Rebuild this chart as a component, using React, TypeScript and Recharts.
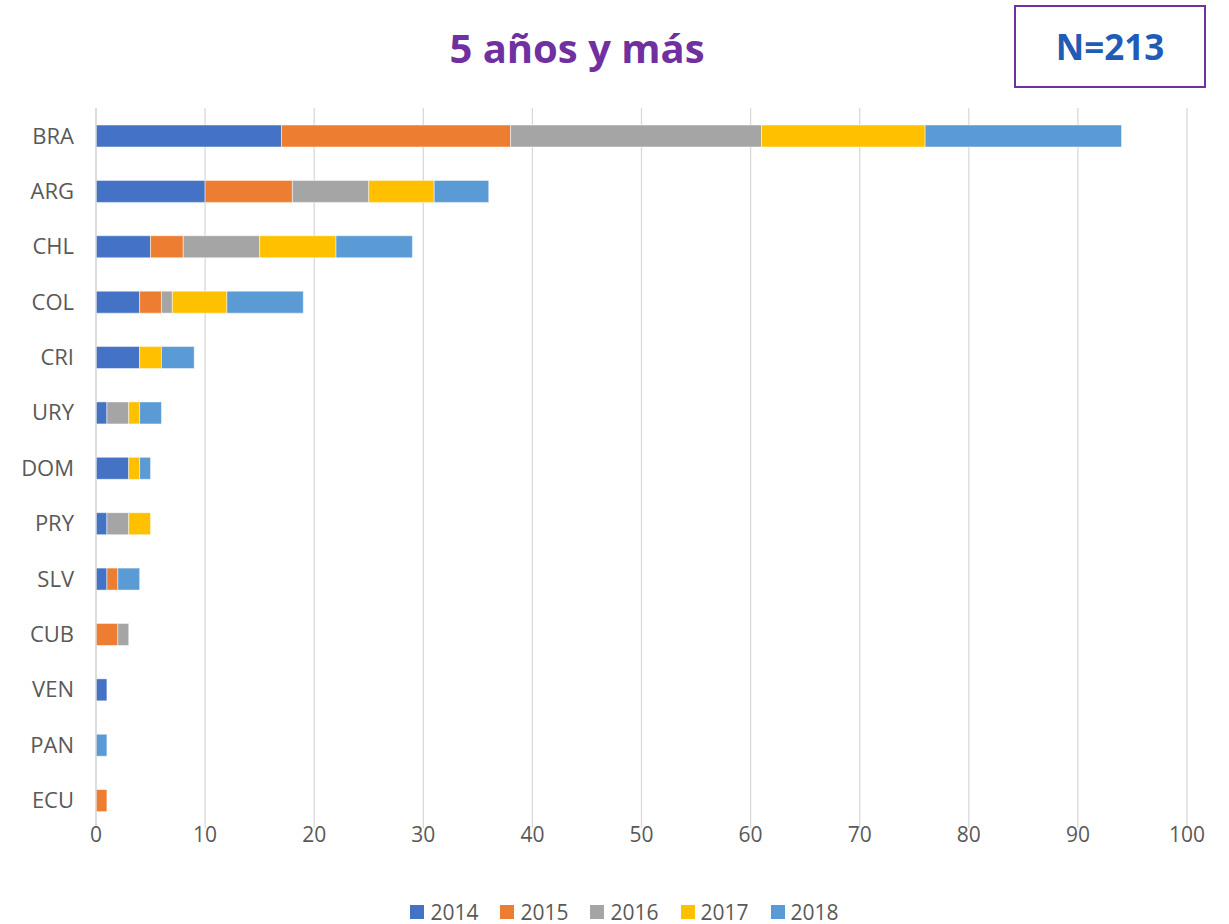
import { BarChart, Bar, XAxis, YAxis, CartesianGrid } from "recharts";

const countries = ["BRA", "ARG", "CHL", "COL", "CRI", "URY", "DOM", "PRY", "SLV", "CUB", "VEN", "PAN", "ECU"];
const y2014 = [17, 10, 5, 4, 4, 1, 3, 1, 1, 0, 1, 0, 0];
const y2015 = [21, 8, 3, 2, 0, 0, 0, 0, 1, 2, 0, 0, 1];
const y2016 = [23, 7, 7, 1, 0, 2, 0, 2, 0, 1, 0, 0, 0];
const y2017 = [15, 6, 7, 5, 2, 1, 1, 2, 0, 0, 0, 0, 0];
const y2018 = [18, 5, 7, 7, 3, 2, 1, 0, 2, 0, 0, 1, 0];
const xTicks = [0, 10, 20, 30, 40, 50, 60, 70, 80, 90, 100];

const series = [
  { key: "2014", values: y2014, color: "#4472C4" },
  { key: "2015", values: y2015, color: "#ED7D31" },
  { key: "2016", values: y2016, color: "#A5A5A5" },
  { key: "2017", values: y2017, color: "#FFC000" },
  { key: "2018", values: y2018, color: "#5B9BD5" },
];

const rows = countries.map((c, i) => {
  const row: Record<string, string | number> = { country: c };
  series.forEach((s) => (row[s.key] = s.values[i]));
  return row;
});

const FONT = "'Open Sans', sans-serif";
const total = series.reduce((acc, s) => acc + s.values.reduce((a, b) => a + b, 0), 0);

export default function App() {
  return (
    <div style={{ position: "absolute", left: 0, top: 0, width: 1229, height: 924, background: "#fff", fontFamily: FONT }}>
      <div
        style={{
          position: "absolute", left: 377, width: 400, top: 20, textAlign: "center",
          fontSize: 40, fontWeight: 700, color: "#7030A0", lineHeight: "56px",
        }}
      >
        5 años y más
      </div>
      <div
        style={{
          position: "absolute", left: 1014, top: 5, width: 188, height: 79,
          border: "2px solid #7030A0", display: "flex", alignItems: "center", justifyContent: "center",
          fontSize: 35, fontWeight: 700, color: "#1F5BB7",
        }}
      >
        N={total}
      </div>

      <BarChart
        width={1229}
        height={924}
        data={rows}
        layout="vertical"
        margin={{ top: 108, right: 42, left: 0, bottom: 66 }}
        barSize={22}
        style={{ position: "absolute", left: 0, top: 0 }}
      >
        <CartesianGrid horizontal={false} stroke="#d9d9d9" strokeWidth={1.3} />
        <XAxis
          type="number"
          domain={[0, 100]}
          ticks={xTicks}
          interval={0}
          axisLine={false}
          tickLine={false}
          tickSize={0}
          tickMargin={-1}
          height={30}
          tick={{ fill: "#595959", fontSize: 21, fontFamily: FONT }}
        />
        <YAxis
          type="category"
          dataKey="country"
          width={96}
          axisLine={{ stroke: "#d9d9d9", strokeWidth: 1.3 }}
          tickLine={false}
          tickSize={0}
          tickMargin={22}
          interval={0}
          tick={{ fill: "#595959", fontSize: 22, fontFamily: FONT }}
        />
        {series.map((s) => (
          <Bar
            key={s.key}
            dataKey={s.key}
            stackId="a"
            fill={s.color}
            stroke="#ffffff"
            strokeOpacity={0.6}
            strokeWidth={0.8}
            isAnimationActive={false}
          />
        ))}
      </BarChart>

      <div
        style={{
          position: "absolute", left: 0, width: 1229, top: 897, height: 30,
          display: "flex", justifyContent: "center", alignItems: "center", gap: 22,
          fontSize: 21, color: "#595959", paddingLeft: 20, boxSizing: "border-box",
        }}
      >
        {series.map((s) => (
          <div key={s.key} style={{ display: "flex", alignItems: "center", gap: 6 }}>
            <span style={{ width: 14, height: 14, background: s.color, display: "inline-block" }} />
            <span>{s.key}</span>
          </div>
        ))}
      </div>
    </div>
  );
}
